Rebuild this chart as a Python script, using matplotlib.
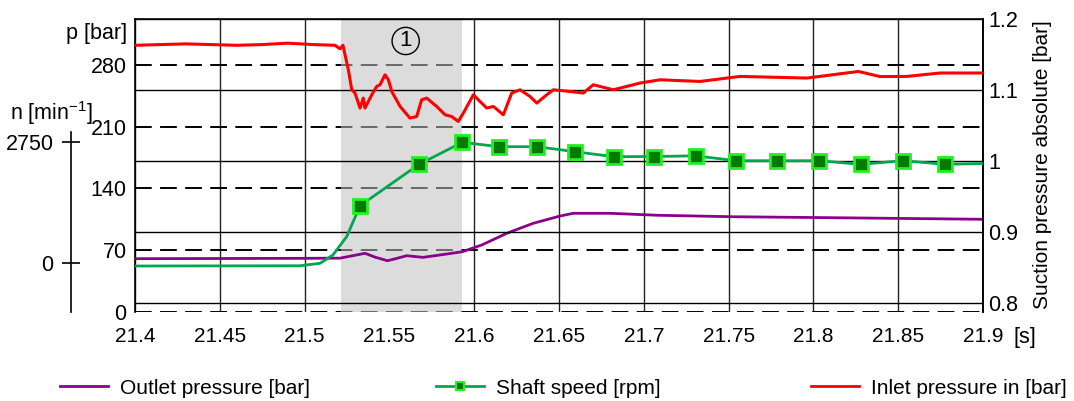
import numpy as np
import matplotlib.pyplot as plt
from matplotlib.lines import Line2D

plt.rcParams['font.family'] = ['Liberation Sans', 'DejaVu Sans']
plt.rcParams['mathtext.fontset'] = 'custom'
plt.rcParams['mathtext.rm'] = 'Liberation Sans'
plt.rcParams['mathtext.it'] = 'Liberation Sans'

# time axis [s]
x_ticks = [21.4, 21.45, 21.5, 21.55, 21.6, 21.65, 21.7, 21.75, 21.8, 21.85, 21.9]

# outlet pressure [bar] (left axis)
outlet_t = [21.4, 21.4973, 21.5209, 21.5268, 21.5356, 21.5415, 21.5488, 21.5533, 21.5602,
            21.5698, 21.5838, 21.593, 21.6044, 21.6192, 21.6347, 21.6506, 21.6583, 21.6801,
            21.7076, 21.7526, 21.8216, 21.9]
outlet_p = [60.2, 60.6, 60.8, 63.0, 66.3, 62.0, 57.9, 60.0, 63.6,
            61.7, 65.5, 68.1, 75.7, 89.0, 100.3, 108.6, 111.7, 111.7,
            109.5, 107.8, 106.5, 104.9]

# shaft speed [rpm] (n axis)
speed_t = [21.4, 21.4973, 21.5091, 21.5167, 21.5248, 21.5327, 21.5675, 21.593, 21.6148,
           21.6372, 21.6594, 21.6824, 21.706, 21.7306, 21.7544, 21.7787, 21.8033, 21.8279,
           21.853, 21.8776, 21.9]
speed_n = [-61, -55, 0, 188, 602, 1303, 2239, 2736, 2637,
           2637, 2524, 2411, 2415, 2431, 2320, 2320, 2320, 2239,
           2320, 2239, 2257]
speed_markers = list(range(5, 20))

# inlet pressure [bar] (right axis)
inlet_t = [21.4, 21.43, 21.46, 21.475, 21.49, 21.505, 21.5179, 21.5209, 21.5226, 21.5258,
           21.5278, 21.5297, 21.5327, 21.5346, 21.5356, 21.5396, 21.5425, 21.5445, 21.5474,
           21.5494, 21.5514, 21.5563, 21.5621, 21.5661, 21.569, 21.572, 21.5779, 21.5828,
           21.5867, 21.5906, 21.5936, 21.5995, 21.6034, 21.6074, 21.6113, 21.6172, 21.6221,
           21.627, 21.6329, 21.6369, 21.6428, 21.6467, 21.6565, 21.6643, 21.6702, 21.682,
           21.6899, 21.6978, 21.7096, 21.7331, 21.7567, 21.7961, 21.8265, 21.8393, 21.855,
           21.8747, 21.9]
inlet_p = [1.163, 1.165, 1.163, 1.164, 1.166, 1.164, 1.163, 1.158, 1.163, 1.1286,
           1.1004, 1.0958, 1.0747, 1.0887, 1.0747, 1.0934, 1.1051, 1.1075, 1.1215,
           1.1145, 1.098, 1.0769, 1.0606, 1.0628, 1.0863, 1.0887, 1.0769, 1.0652,
           1.0628, 1.0558, 1.0676, 1.0934, 1.084, 1.0747, 1.0769, 1.0652, 1.0958,
           1.1004, 1.091, 1.0817, 1.0934, 1.1004, 1.098, 1.0958, 1.1075, 1.1004,
           1.1051, 1.1099, 1.1145, 1.1121, 1.1192, 1.1169, 1.1262, 1.119, 1.1192,
           1.124, 1.124]

p_ticks = [0, 70, 140, 210, 280]
r_ticks = [0.8, 0.9, 1.0, 1.1, 1.2]
n_ticks = [0, 2750]
phase = (21.5215, 21.5927)

dash = (0, (8.6, 4.3))

fig = plt.figure(figsize=(10.74, 4.01), dpi=100)
ax = fig.add_axes([0.1257, 0.22195, 0.78957, 0.73067])
axr = ax.twinx()
axn = ax.twinx()

# left: p [bar]
ax.set_xlim(21.4, 21.9)
ax.set_ylim(-0.3, 332.2)
ax.set_xticks(x_ticks)
ax.set_xticklabels(['%g' % t for t in x_ticks])
ax.set_yticks(p_ticks)
ax.tick_params(axis='x', length=0, pad=11, labelsize=15)
ax.tick_params(axis='y', length=0, pad=6, labelsize=15.5)
ax.set_axisbelow(True)
ax.xaxis.grid(True, color='#222222', lw=1.0, ls='-')
ax.yaxis.grid(True, color='black', lw=1.4, ls=dash)
ax.xaxis.get_gridlines()[3].set_visible(False)
ax.axvspan(phase[0], phase[1], color='#c0c0c0', alpha=0.55, lw=0, zorder=1)
ax.plot(outlet_t, outlet_p, color='#8b008b', lw=2.0, zorder=3)
ax.text(0.5 * (phase[0] + phase[1]) + 0.0025, 0.925, '1', transform=ax.get_xaxis_transform(),
        ha='center', va='center', fontsize=16,
        bbox=dict(boxstyle='circle,pad=0.14', fc='none', ec='black', lw=1))

# right: suction pressure
axr.set_ylim(0.7877, 1.2)
axr.set_yticks(r_ticks)
axr.set_yticklabels(['0.8', '0.9', '1', '1.1', '1.2'])
axr.tick_params(axis='y', length=0, pad=4, labelsize=15.5)
axr.set_axisbelow(True)
axr.yaxis.grid(True, color='black', lw=1.0, ls='-')
axr.plot(inlet_t, inlet_p, color='#ff0000', lw=2.2, zorder=3)

# speed axis n
axn.set_ylim(-1101, 5525)
axn.set_yticks(n_ticks)
axn.spines['left'].set_position(('axes', -0.0755))
axn.spines['left'].set_bounds(-1101, 2976)
axn.spines['left'].set_visible(True)
axn.yaxis.set_ticks_position('left')
axn.tick_params(axis='y', direction='inout', length=13, width=1.2, pad=6, labelsize=15.5)
axn.plot(speed_t, speed_n, color='#00a651', lw=2.0, zorder=3)
axn.plot([speed_t[i] for i in speed_markers], [speed_n[i] for i in speed_markers],
         ls='none', marker='s', ms=10, mfc='#007a00', mec='#22f022', mew=2, zorder=4)

for a in (ax, axr, axn):
    a.spines['bottom'].set_visible(False)
    for s in a.spines.values():
        s.set_linewidth(1.2)
for s in ('right', 'top'):
    axn.spines[s].set_visible(False)
axr.spines['left'].set_visible(False)
axr.spines['top'].set_visible(False)

# labels
fig.text(127 / 1074, 1 - 33 / 401, 'p [bar]', ha='right', va='center', fontsize=15.5)
fig.text(10 / 1074, 1 - 113 / 401, 'n [min$^{-1}$]', ha='left', va='center', fontsize=15.5)
fig.text(1025 / 1074, 1 - 338 / 401, '[s]', ha='center', va='center', fontsize=15.5)
fig.text(1043 / 1074, 1 - 165 / 401, 'Suction pressure absolute [bar]', ha='center',
         va='center', rotation=90, fontsize=15)

# legend, three separate entries
entries = [
    (Line2D([], [], color='#8b008b', lw=2), 'Outlet pressure [bar]', 60),
    (Line2D([], [], color='#00a651', lw=2, marker='s', ms=6, mfc='#007a00', mec='#22f022', mew=1.5),
     'Shaft speed [rpm]', 436),
    (Line2D([], [], color='#ff0000', lw=2), 'Inlet pressure in [bar]', 811),
]
for h, lab, xpos in entries:
    fig.legend([h], [lab], loc='center left', bbox_to_anchor=(xpos / 1074, 1 - 388 / 401),
               frameon=False, fontsize=15, handlelength=2.3, handletextpad=0.6,
               borderpad=0, borderaxespad=0)

fig.savefig('out.png', dpi=100)
